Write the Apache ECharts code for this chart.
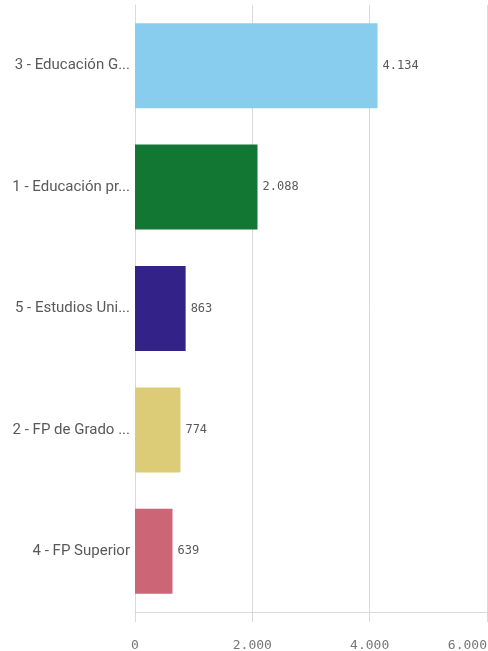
<!DOCTYPE html>
<html>
<head>
<meta charset="utf-8">
<script src="https://cdn.jsdelivr.net/npm/echarts@6/dist/echarts.min.js"></script>
<style>
	html, body { margin: 0; padding: 0; background: #fff; }
	#barchart { width: 488px; height: 651px; }
</style>
</head>
<body>
<div id="barchart"></div>
<script>
var categories = [ '3 - Educación G...', '1 - Educación pr...', '5 - Estudios Uni...',
		'2 - FP de Grado ...', '4 - FP Superior' ];
var values = [ 4134, 2088, 863, 774, 639 ];
var barColors = [ '#88CCEE', '#117733', '#332288', '#DDCC77', '#CC6677' ];

function fmt(v) {
	return String(v).replace(/\B(?=(\d{3})+(?!\d))/g, '.');
}

var barOption = {
	animation : false,
	grid : {
		left : 135,
		right : 1,
		top : 5,
		bottom : 39,
		outerBoundsMode : 'none',
		containLabel : false
	},
	xAxis : {
		type : 'value',
		min : 0,
		max : 6000,
		interval : 2000,
		axisLine : {
			show : true,
			lineStyle : {
				color : '#d9d9d9'
			}
		},
		axisTick : {
			show : true,
			length : 10,
			lineStyle : {
				color : '#d9d9d9'
			}
		},
		axisLabel : {
			margin : 27,
			fontFamily : 'DejaVu Sans Mono',
			fontSize : 13,
			color : '#777',
			alignMaxLabel : 'right',
			formatter : fmt
		},
		splitLine : {
			lineStyle : {
				color : '#d9d9d9'
			}
		}
	},
	yAxis : {
		type : 'category',
		inverse : true,
		data : categories,
		axisLine : {
			lineStyle : {
				color : '#d9d9d9'
			}
		},
		axisTick : {
			show : false
		},
		axisLabel : {
			margin : 5,
			fontFamily : 'Roboto',
			fontSize : 15,
			color : '#595959'
		}
	},
	series : [ {
		type : 'bar',
		barWidth : '70%',
		data : values.map(function(v, i) {
			return {
				value : v,
				itemStyle : {
					color : barColors[i]
				}
			};
		}),
		label : {
			show : true,
			position : 'right',
			distance : 5,
			fontFamily : 'DejaVu Sans Mono',
			fontSize : 12,
			color : '#595959',
			formatter : function(p) {
				return fmt(p.value);
			}
		}
	} ]
};

var barchart = echarts.init(document.getElementById('barchart'));
barchart.setOption(barOption);
</script>
</body>
</html>
